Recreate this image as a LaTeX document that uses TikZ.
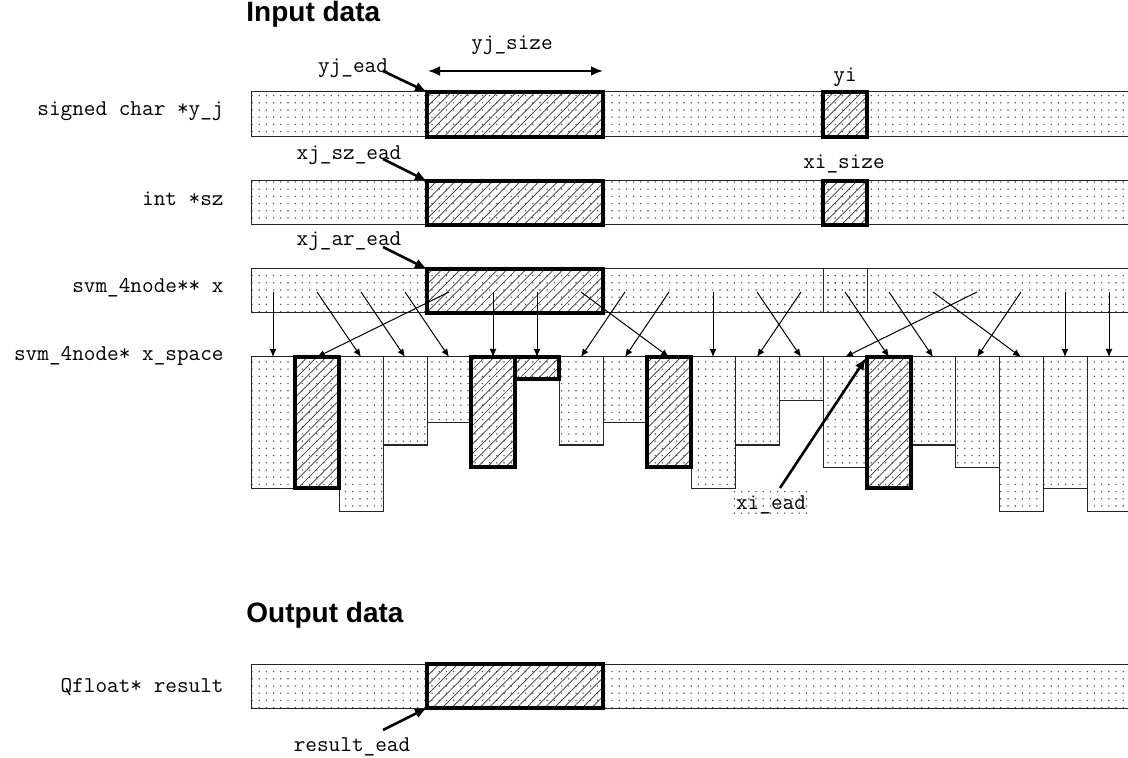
\documentclass[tikz,border=0pt]{standalone}
\usepackage{fontspec}
\setsansfont{Liberation Sans}
\usetikzlibrary{arrows.meta,patterns.meta}
\tikzset{
	dotcell/.style={draw=black!85, line width=0.5pt, pattern={Dots[distance=3.6pt,radius=0.4pt]}, pattern color=black!70},
	hatchcell/.style={draw=black, line width=1.8pt, pattern={Lines[angle=45,distance=3.3pt,line width=0.35pt]}, pattern color=black!80},
	code/.style={font=\ttfamily\fontsize{11.3}{13}\selectfont, inner sep=0pt},
	heading/.style={font=\sffamily\bfseries\fontsize{14}{16}\selectfont, inner sep=0pt},
	ptr/.style={-{Latex[length=4pt,width=3.4pt]}, line width=0.5pt},
	bigptr/.style={-{Latex[length=6pt,width=5pt]}, line width=1.3pt},
}
\begin{document}
\begin{tikzpicture}[x=0.5pt,y=-0.5pt]
	\useasboundingbox (0,0) rectangle (1128,758);
	\clip (0,0) rectangle (1128,758);

	\node[heading, anchor=base west] (inhead) at (246,22) {Input data};
	\node[heading, anchor=base west] (outhead) at (246,622) {Output data};

	\node[code, anchor=east] (yjlab) at (224,111) {signed char *y\_j};
	\node[code, anchor=east] (szlab) at (224,199) {int *sz};
	\node[code, anchor=east] (xlab) at (224,288) {svm\_4node** x};
	\node[code, anchor=east] (xsplab) at (224,356) {svm\_4node* x\_space};
	\node[code, anchor=east] (reslab) at (224,687) {Qfloat* result};

	% y_j, sz, x rows
	\draw[dotcell] (251,92) rectangle (1140,137);
	\draw[hatchcell] (427,92) rectangle (603,137);
	\draw[hatchcell] (823,92) rectangle (867,137);
	\draw[dotcell] (251,181) rectangle (1140,225);
	\draw[hatchcell] (427,181) rectangle (603,225);
	\draw[hatchcell] (823,181) rectangle (867,225);
	\draw[dotcell] (251,269) rectangle (1140,313);
	\draw[dotcell] (823,269) rectangle (867,313);
	\draw[hatchcell] (427,269) rectangle (603,313);

	% x_space
	\foreach \h [count=\i] in {488,488,511,445,423,467,379,445,423,467,488,445,401,467,488,445,467,511,488,511}
		\draw[dotcell] ({251+44*(\i-1)},357) rectangle ({295+44*(\i-1)},\h);
	\foreach \i/\h in {2/488,6/467,7/379,10/467,15/488}
		\draw[hatchcell] ({251+44*(\i-1)},357) rectangle ({295+44*(\i-1)},\h);

	\foreach \i in {1,...,20} {
		\coordinate (src\i) at ({273+44*(\i-1)},292);
		\coordinate (dst\i) at ({273+44*(\i-1)},357);
	}
	\foreach \a/\b in {1/1,2/3,3/4,4/5,5/2,6/6,7/7,8/10,9/8,10/9,11/11,12/13,13/12,14/15,15/16,16/18,17/14,18/17,19/19,20/20}
		\draw[ptr] (src\a) -- (dst\b);

	% result
	\draw[dotcell] (251,664) rectangle (1140,708);
	\draw[hatchcell] (427,664) rectangle (603,708);

	% labels
	\node[code] (yjsize) at (512,45) {yj\_size};
	\coordinate (yjl) at (428,71);
	\coordinate (yjr) at (603,71);
	\draw[bigptr, {Latex[length=6pt,width=5pt]}-{Latex[length=6pt,width=5pt]}] (yjl) -- (yjr);

	\node[code] (yjead) at (353,68) {yj\_ead};
	\coordinate (yjeadt) at (383,71);
	\coordinate (yjeadh) at (427,92);
	\draw[bigptr] (yjeadt) -- (yjeadh);

	\node[code] (yi) at (845,77) {yi};
	\node[code] (xisize) at (844,164) {xi\_size};

	\node[code] (xjszead) at (349,155) {xj\_sz\_ead};
	\coordinate (szt) at (383,159);
	\coordinate (szh) at (427,181);
	\draw[bigptr] (szt) -- (szh);

	\node[code] (xjaread) at (349,241) {xj\_ar\_ead};
	\coordinate (art) at (383,247);
	\coordinate (arh) at (427,269);
	\draw[bigptr] (art) -- (arh);

	\node[code, inner sep=2pt, pattern={Dots[distance=3.6pt,radius=0.4pt]}, pattern color=black!70] (xiead) at (771,505) {xi\_ead};
	\coordinate (xit) at (780,488);
	\coordinate (xih) at (866,358);
	\draw[bigptr] (xit) -- (xih);

	\node[code] (resead) at (352,747) {result\_ead};
	\coordinate (rest) at (383,730);
	\coordinate (resh) at (427,708);
	\draw[bigptr] (rest) -- (resh);
\end{tikzpicture}
\end{document}
